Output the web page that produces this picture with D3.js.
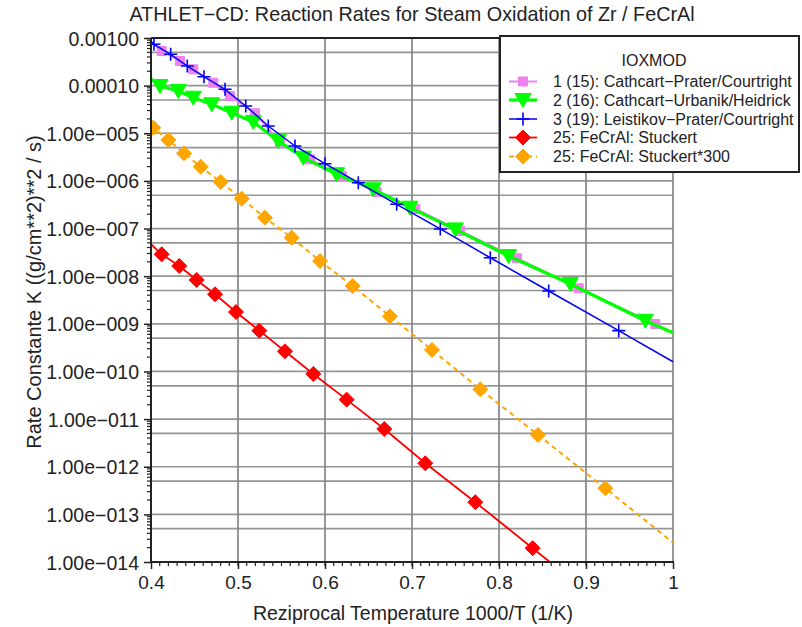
<!DOCTYPE html>
<html><head><meta charset="utf-8">
<script src="https://cdn.jsdelivr.net/npm/d3@7"></script>
<style>
html,body{margin:0;padding:0;background:#fff;}
text{font-family:"Liberation Sans",Arial,Helvetica,sans-serif;fill:#222;}
</style></head>
<body><svg id="chart" width="802" height="627"></svg>
<script>
// ---------- data ----------
const titleText = "ATHLET\u2212CD: Reaction Rates for Steam Oxidation of Zr / FeCrAl";
const xTitle = "Reziprocal Temperature 1000/T (1/K)";
const yTitle = "Rate Constante  K ((g/cm**2)**2 / s)";
const legendTitle = "IOXMOD";
const seriesNames = [
  "1 (15): Cathcart\u2212Prater/Courtright",
  "2 (16): Cathcart\u2212Urbanik/Heidrick",
  "3 (19): Leistikov\u2212Prater/Courtright",
  "25: FeCrAl: Stuckert",
  "25: FeCrAl: Stuckert*300"
];
const xTicks = [0.4, 0.5, 0.6, 0.7, 0.8, 0.9, 1.0];
const xTickLabels = ["0.4", "0.5", "0.6", "0.7", "0.8", "0.9", "1"];
const yTicks = [1e-3, 1e-4, 1e-5, 1e-6, 1e-7, 1e-8, 1e-9, 1e-10, 1e-11, 1e-12, 1e-13, 1e-14];
const yTickLabels = ["0.00100", "0.00010", "1.00e\u2212005", "1.00e\u2212006", "1.00e\u2212007", "1.00e\u2212008",
  "1.00e\u2212009", "1.00e\u2212010", "1.00e\u2212011", "1.00e\u2212012", "1.00e\u2212013", "1.00e\u2212014"];

// each series: first and last point are line ends, the rest carry markers
const cpcX = [0.4, 0.4123, 0.4333, 0.4486, 0.4716, 0.4908, 0.5195, 0.5483, 0.5828, 0.6192, 0.6594, 0.7038, 0.7555, 0.8207, 0.8916, 0.9797, 1.0];
const cpcY = [8.4e-4, 5.33e-4, 3.29e-4, 2.2e-4, 1.15e-4, 6.07e-5, 2.63e-5, 6.35e-6, 2.84e-6, 1.27e-6, 5.85e-7, 2.6e-7, 8.9e-8, 2.38e-8, 5.57e-9, 9.9e-10, 6.5e-10];

const cuhX = [0.4, 0.4103, 0.4314, 0.4486, 0.4698, 0.4928, 0.5176, 0.5463, 0.5751, 0.6134, 0.6555, 0.6977, 0.7498, 0.8111, 0.882, 0.9682, 1.0];
const cuhY = [1.38e-4, 9.8e-5, 7.73e-5, 5.58e-5, 4.06e-5, 2.70e-5, 1.73e-5, 6.9e-6, 3.07e-6, 1.38e-6, 6.67e-7, 2.74e-7, 9.6e-8, 2.65e-8, 6.86e-9, 1.16e-9, 6.5e-10];

const lpcX = [0.4, 0.4034, 0.4226, 0.4417, 0.4609, 0.4851, 0.5089, 0.5348, 0.5655, 0.6, 0.6383, 0.6824, 0.7325, 0.79, 0.8571, 0.9376, 1.0];
const lpcY = [8.4e-4, 7.38e-4, 4.55e-4, 2.58e-4, 1.54e-4, 8.38e-5, 3.74e-5, 1.42e-5, 5.41e-6, 2.30e-6, 9.18e-7, 3.23e-7, 9.8e-8, 2.44e-8, 4.89e-9, 7.18e-10, 1.6e-10];

const stuX = [0.4, 0.4123, 0.4325, 0.4525, 0.4736, 0.4977, 0.5245, 0.554, 0.5866, 0.6249, 0.6682, 0.7153, 0.7728, 0.8387, 0.86];
const stuY = [4.68e-8, 2.88e-8, 1.64e-8, 8.3e-9, 4.17e-9, 1.77e-9, 7.18e-10, 2.65e-10, 8.85e-11, 2.56e-11, 6.2e-12, 1.18e-12, 1.8e-13, 1.95e-14, 9.5e-15];

const st3X = [0.4, 0.4026, 0.4199, 0.4379, 0.4571, 0.4801, 0.5043, 0.531, 0.5617, 0.5943, 0.6318, 0.6747, 0.723, 0.7785, 0.8448, 0.9222, 1.0];
const st3Y = [1.42e-5, 1.31e-5, 7.23e-6, 3.79e-6, 1.99e-6, 9.49e-7, 4.24e-7, 1.69e-7, 6.43e-8, 2.08e-8, 6.22e-9, 1.44e-9, 2.83e-10, 4.22e-11, 4.65e-12, 3.53e-13, 2.55e-14];

// ---------- layout / style ----------
const L = 151, R = 673, T = 38, B = 562;
const svg = d3.select("#chart");
const x = d3.scaleLinear().domain([0.4, 1.0]).range([L, R]);
const y = d3.scaleLog().domain([1e-14, 1e-3]).range([B, T]);

const styles = [
  {color: "#ee82ee", width: 2, dash: null, marker: "square"},
  {color: "#00ff00", width: 3.2, dash: null, marker: "tri"},
  {color: "#0000ff", width: 1.5, dash: null, marker: "plus"},
  {color: "#ff0000", width: 1.8, dash: null, marker: "diamond"},
  {color: "#ffa500", width: 2, dash: "5,4", marker: "diamond"}
];
const data = [[cpcX, cpcY], [cuhX, cuhY], [lpcX, lpcY], [stuX, stuY], [st3X, st3Y]];

function markerPath(type) {
  const p = d3.path();
  if (type === "square") { p.rect(-4.5, -4.5, 9, 9); }
  else if (type === "tri") { p.moveTo(-8, -6.5); p.lineTo(8, -6.5); p.lineTo(0, 7.5); p.closePath(); }
  else if (type === "diamond") { p.moveTo(0, -7.5); p.lineTo(7.5, 0); p.lineTo(0, 7.5); p.lineTo(-7.5, 0); p.closePath(); }
  else if (type === "plus") { p.moveTo(-6.5, 0); p.lineTo(6.5, 0); p.moveTo(0, -6.5); p.lineTo(0, 6.5); }
  return p.toString();
}

// grid
const grid = svg.append("g");
const hLines = [];
yTicks.forEach(v => { hLines.push(v); if (v > 1e-14) hLines.push(v / 2); });
grid.selectAll("line.h").data(hLines).join("line")
  .attr("x1", L).attr("x2", R).attr("y1", d => y(d)).attr("y2", d => y(d))
  .attr("stroke", "#959595").attr("stroke-width", 1.7);
grid.selectAll("line.v").data(xTicks.slice(1)).join("line")
  .attr("x1", d => x(d)).attr("x2", d => x(d)).attr("y1", T).attr("y2", B)
  .attr("stroke", "#858585").attr("stroke-width", 1.7);

// frame top
svg.append("line").attr("x1", L).attr("x2", R + 1).attr("y1", T).attr("y2", T).attr("stroke", "#222").attr("stroke-width", 2);

// series
svg.append("defs").append("clipPath").attr("id", "clip").append("rect")
  .attr("x", L).attr("y", T - 10).attr("width", R - L + 2).attr("height", B - T + 10);
const plot = svg.append("g").attr("clip-path", "url(#clip)");
const line = d3.line().x(d => x(d[0])).y(d => y(d[1]));
data.forEach(([xs, ys], i) => {
  const st = styles[i];
  const pts = xs.map((v, k) => [v, ys[k]]);
  const g = plot.append("g");
  g.append("path").attr("d", line(pts)).attr("fill", "none")
    .attr("stroke", st.color).attr("stroke-width", st.width)
    .attr("stroke-dasharray", st.dash);
  g.selectAll("path.m").data(pts.slice(1, -1)).join("path")
    .attr("transform", d => `translate(${x(d[0])},${y(d[1])})`)
    .attr("d", markerPath(st.marker))
    .attr("fill", st.marker === "plus" ? "none" : st.color)
    .attr("stroke", st.color).attr("stroke-width", st.marker === "plus" ? 1.6 : 1);
});

// axes
const yAxis = d3.axisLeft(y).tickValues(yTicks).tickFormat((d, i) => yTickLabels[i]).tickSize(7).tickPadding(5);
const gy = svg.append("g").attr("transform", `translate(${L},0)`).call(yAxis);
const minorY = [];
for (let e = -14; e < -3; e++) for (let m = 2; m <= 9; m++) minorY.push(m * Math.pow(10, e));
gy.selectAll("line.minor").data(minorY).join("line").attr("class", "minor")
  .attr("x1", -4).attr("x2", 0).attr("y1", d => y(d)).attr("y2", d => y(d)).attr("stroke", "#222").attr("stroke-width", 1.2);

const xAxis = d3.axisBottom(x).tickValues(xTicks).tickFormat((d, i) => xTickLabels[i]).tickSize(7).tickPadding(7);
const gx = svg.append("g").attr("transform", `translate(0,${B})`).call(xAxis);
gx.selectAll("line.minor").data(d3.range(41, 100).map(v => v / 100)).join("line").attr("class", "minor")
  .attr("x1", d => x(d)).attr("x2", d => x(d)).attr("y1", 0).attr("y2", 4).attr("stroke", "#222").attr("stroke-width", 1.2);

[gx, gy].forEach(g => {
  g.select(".domain").attr("stroke", "#222").attr("stroke-width", 2);
  g.selectAll(".tick line").attr("stroke", "#222").attr("stroke-width", 1.5);
  g.selectAll(".tick text").attr("fill", "#222")
    .style("font-family", '"Liberation Sans",Arial,sans-serif');
});
gy.selectAll(".tick text").style("font-size", "19.5px").attr("dy", "0.36em");
gx.selectAll(".tick text").style("font-size", "19px");
gx.select(".domain").attr("d", `M${L},0H${R + 1}`);
gy.select(".domain").attr("d", `M0,${B}V${T}`);

// titles
svg.append("text").attr("x", 412).attr("y", 21).attr("text-anchor", "middle")
  .style("font-size", "19.8px").text(titleText);
svg.append("text").attr("x", 413).attr("y", 620).attr("text-anchor", "middle")
  .style("font-size", "19.5px").text(xTitle);
svg.append("text").attr("transform", "translate(41,292) rotate(-90)").attr("text-anchor", "middle")
  .style("font-size", "20px").text(yTitle);

// legend
const lg = svg.append("g");
lg.append("rect").attr("x", 500).attr("y", 36).attr("width", 299).attr("height", 136)
  .attr("fill", "#fff").attr("stroke", "#222").attr("stroke-width", 2);
lg.append("text").attr("x", 654).attr("y", 66).attr("text-anchor", "middle").style("font-size", "16px").text(legendTitle);
const rowY = [81.5, 100, 119, 137.5, 156.5];
seriesNames.forEach((name, i) => {
  const st = styles[i];
  const ry = rowY[i];
  lg.append("line").attr("x1", 509).attr("x2", 537).attr("y1", ry).attr("y2", ry)
    .attr("stroke", st.color).attr("stroke-width", st.width).attr("stroke-dasharray", st.dash);
  lg.append("path").attr("transform", `translate(523,${ry})`).attr("d", markerPath(st.marker))
    .attr("fill", st.marker === "plus" ? "none" : st.color).attr("stroke", st.color)
    .attr("stroke-width", st.marker === "plus" ? 1.6 : 1);
  lg.append("text").attr("x", 553).attr("y", ry + 5.7).style("font-size", "16px").text(name);
});
</script></body></html>
